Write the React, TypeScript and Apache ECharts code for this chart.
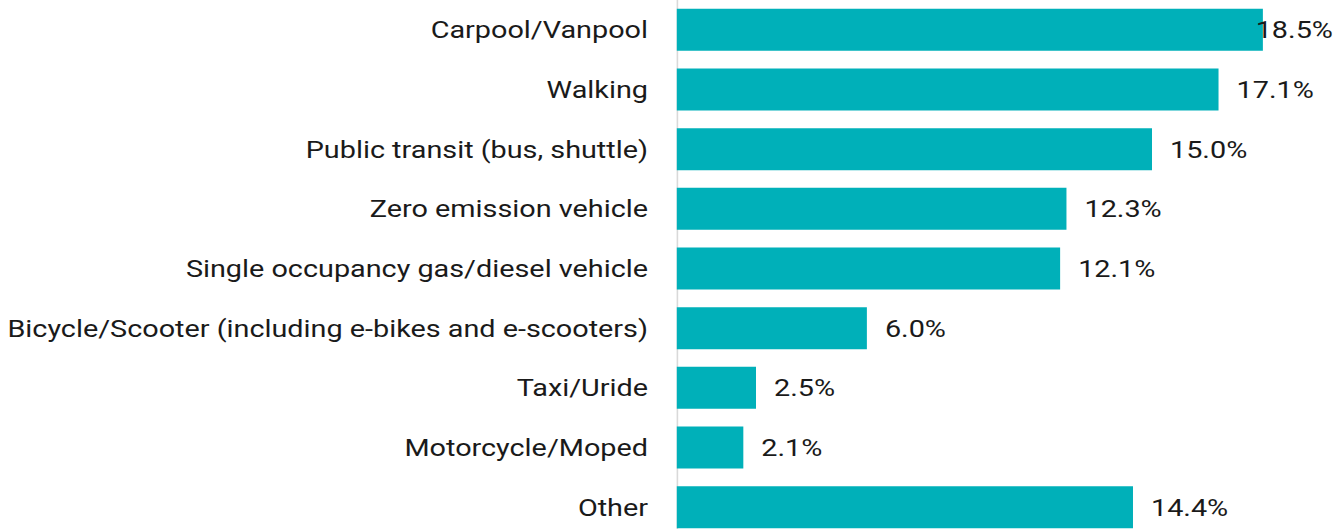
import React, { useEffect, useRef } from "react";
import * as echarts from "echarts";

const categories = [
  "Carpool/Vanpool",
  "Walking",
  "Public transit (bus, shuttle)",
  "Zero emission vehicle",
  "Single occupancy gas/diesel vehicle",
  "Bicycle/Scooter (including e-bikes and e-scooters)",
  "Taxi/Uride",
  "Motorcycle/Moped",
  "Other",
];
const values = [18.5, 17.1, 15.0, 12.3, 12.1, 6.0, 2.5, 2.1, 14.4];

const SX = 1.2;

export default function App() {
  const ref = useRef<HTMLDivElement>(null);
  useEffect(() => {
    const chart = echarts.init(ref.current!, null, { renderer: "svg" });
    chart.setOption({
      animation: false,
      grid: { left: 564, top: 0, width: 528, height: 537, containLabel: false },
      xAxis: { type: "value", min: 0, max: 20, show: false },
      yAxis: {
        type: "category",
        data: categories,
        inverse: true,
        axisTick: { show: false },
        axisLine: { show: true, lineStyle: { color: "#d9d9d9", width: 1.3 } },
        axisLabel: {
          margin: 24,
          color: "#1a1a1a",
          fontFamily: "Roboto",
          fontSize: 24,
        },
      },
      series: [
        {
          type: "bar",
          barWidth: 42,
          itemStyle: { color: "#00B0B9" },
          data: values.map((v, i) => ({
            value: v,
            label: i === 0 ? { offset: [-21, 0] } : undefined,
          })),
          label: {
            show: true,
            position: "right",
            distance: 15,
            color: "#1a1a1a",
            fontFamily: "Roboto",
            fontSize: 24,
            formatter: (p: any) => p.value.toFixed(1) + "%",
          },
        },
      ],
    });
    return () => chart.dispose();
  }, []);
  return (
    <div
      style={{
        position: "absolute",
        left: 0,
        top: 0,
        width: 1334,
        height: 529,
        overflow: "hidden",
        background: "#fff",
      }}
    >
      <div
        ref={ref}
        style={{
          width: 1334 / SX,
          height: 545,
          transform: `scaleX(${SX})`,
          transformOrigin: "0 0",
        }}
      />
    </div>
  );
}
